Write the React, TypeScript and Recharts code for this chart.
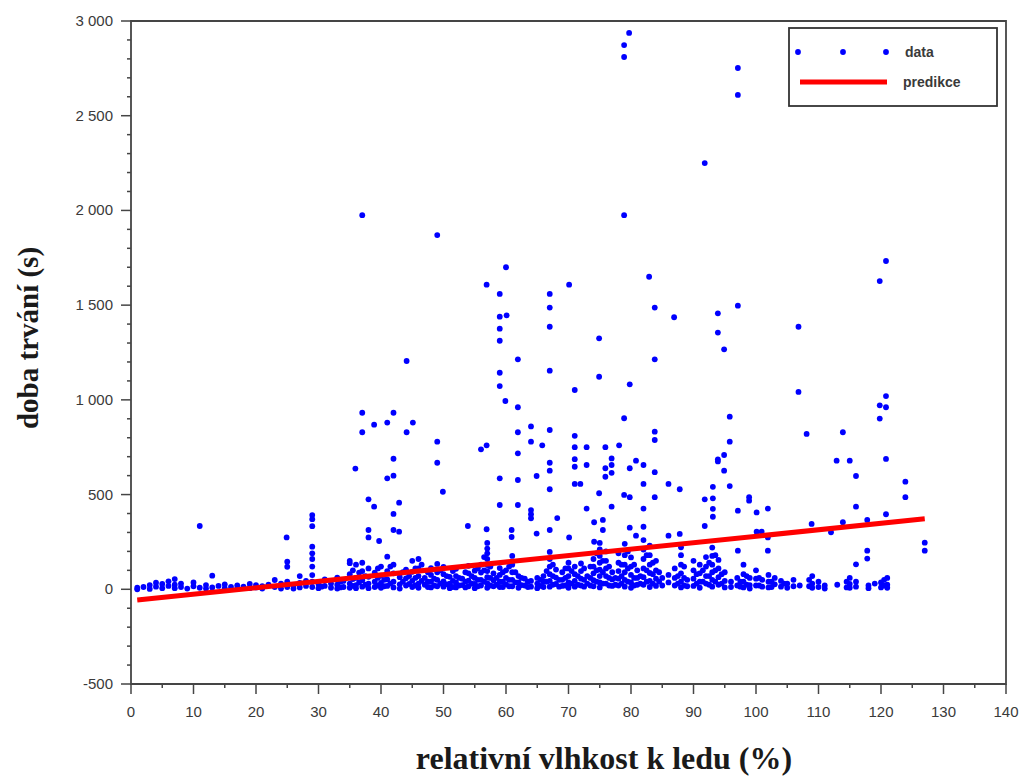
import { ScatterChart, Scatter, XAxis, YAxis, ReferenceArea } from 'recharts';

// x axis: major every 10, minor every 5
const xTicks = [0, 5, 10, 15, 20, 25, 30, 35, 40, 45, 50, 55, 60, 65, 70, 75, 80, 85, 90, 95, 100, 105, 110, 115, 120, 125, 130, 135, 140];
// y axis: labelled every 500, minor every 100
const yMajor = [-500, 0, 500, 1000, 1500, 2000, 2500, 3000];
const yTicks = yMajor.flatMap((v) => (v < 3000 ? [v, v + 100, v + 200, v + 300, v + 400] : [v]));

// scattered measurements well above the band
const highPoints: [number, number][] = [
  [11, 334], [24.9, 274], [29, 392], [29, 370], [29, 333], [35.9, 637], [37, 1975], [37, 932], [37, 829],
  [38.9, 869], [38, 475], [38.9, 436], [38, 313], [38, 274], [39.7, 255], [41, 880], [42, 932], [42, 689],
  [41, 586], [42, 600], [42, 398], [42, 313], [42.9, 304], [42.9, 457], [44.1, 1205], [44.1, 829], [45.1, 880],
  [49, 1870], [49, 779], [49, 668], [49.9, 515], [53.9, 334], [56, 739], [56.9, 760], [56.9, 1608], [56.9, 317],
  [59, 1559], [59, 1439], [60.1, 1446], [59, 1376], [59, 1312], [59, 1143], [59, 1073], [59.9, 994], [59, 586],
  [59, 445], [60, 1700], [60.9, 313], [60.9, 276], [61.9, 1214], [61.9, 961], [61.9, 829], [61.9, 718],
  [61.9, 577], [61.9, 445], [64, 860], [64, 779], [65.8, 760], [64.9, 598], [64, 418], [64, 396], [64, 375],
  [64.9, 294], [67, 1559], [67, 1487], [67, 1386], [67, 1154], [67, 841], [67, 668], [67, 626], [67, 528],
  [67, 313], [68.2, 376], [70.1, 1608], [70.1, 274], [71, 1052], [71, 810], [71, 750], [71, 687], [71, 647],
  [71, 556], [71.9, 556], [72.9, 750], [72.9, 656], [72.9, 426], [74.9, 1325], [74.9, 1122], [74.9, 507],
  [74.1, 354], [74.1, 251], [75.9, 750], [75.9, 639], [75.9, 594], [76.9, 691], [76.9, 656], [76.9, 615],
  [76.9, 436], [75.5, 366], [75.5, 313], [78.1, 760], [78.9, 2873], [78.9, 2810], [78.9, 1975], [78.9, 903],
  [78.9, 498], [79.7, 2937], [79.8, 1082], [79.8, 639], [79.8, 486], [80.8, 679], [79.8, 325], [80.8, 283],
  [82, 656], [82, 556], [82, 426], [82, 330], [82.9, 1650], [83.8, 1487], [83.8, 1214], [83.8, 832],
  [83.8, 788], [83.8, 618], [83.8, 486], [86, 556], [86, 283], [86.9, 1436], [87.8, 528], [87.8, 292],
  [91.8, 2250], [91.8, 475], [91.8, 334], [93.1, 541], [93.1, 480], [93.1, 425], [93.1, 383], [93.9, 1457],
  [93.9, 1355], [93.9, 686], [93.9, 675], [94.9, 1267], [94.9, 709], [94.9, 626], [95.8, 911], [95.8, 779],
  [95.8, 545], [97.1, 2752], [97.1, 2610], [97.1, 1497], [97.1, 415], [97.1, 204], [98.9, 486], [98.9, 468],
  [100.1, 406], [100.1, 304], [100.9, 304], [101.9, 426], [101.9, 274], [101.9, 204], [106.8, 1386],
  [106.8, 1042], [108.1, 820], [108.9, 345], [112, 301], [112.9, 679], [113.9, 829], [113.9, 354], [115, 679],
  [116, 598], [116, 436], [117.8, 366], [117.8, 204], [117.8, 162], [116, 132], [119.8, 1627], [119.8, 971],
  [119.8, 901], [120.8, 1733], [120.8, 1020], [120.8, 961], [120.8, 688], [120.8, 396], [123.9, 568],
  [123.9, 486], [127, 246], [127, 204],
];

// dense band near zero: columns of values per humidity reading
const lowColumns: [number, number[]][] = [
  [1, [0, 8]], [2, [12]], [3, [2, 22]], [4, [14, 35]], [5, [6, 28]], [6, [18, 42]], [7, [54, 24, 6]],
  [8, [12, 30]], [9, [4]], [10, [16, 36]], [11, [8]], [12, [22, 4]], [13, [72, 10]], [14, [18]], [15, [6, 26]],
  [16, [12]], [17, [2, 20]], [18, [14]], [19, [28, 6]], [20, [10, 22]], [21, [4, 16]], [22, [24]],
  [23, [49, 12]], [24, [30, 4]], [25, [146, 119, 40, 12]], [26, [20, 4]], [27, [70, 34, 10]], [28, [18, 44]],
  [29, [225, 190, 160, 120, 75, 40, 12]], [30, [28, 6]], [31, [52, 18]], [32, [30, 8]], [33, [62, 24, 4]],
  [34, [44, 12]], [35, [150, 138, 80, 30, 8]], [36, [130, 60, 22, 6]], [37, [140, 96, 48, 14]],
  [38, [110, 66, 30, 6]], [39, [88, 40, 12]], [40, [120, 72, 34, 8]], [41, [172, 96, 52, 18]],
  [42, [130, 84, 40, 10]], [43, [64, 26, 4]], [44, [104, 58, 20]], [45, [150, 92, 44, 12]],
  [46, [160, 110, 70, 30, 8]], [47, [60, 24]], [48, [112, 76, 40, 10]], [49, [134, 90, 50, 16]],
  [50, [118, 80, 42, 14]], [51, [66, 30, 6]], [52, [108, 70, 36, 10]], [53, [56, 22]], [54, [124, 84, 46, 16]],
  [55, [98, 60, 28, 6]], [56, [130, 88, 50, 20]], [57, [245, 215, 190, 160, 128, 96, 64, 32, 8]],
  [58, [84, 48, 16]], [59, [112, 76, 40, 12]], [60, [100, 60, 26]], [61, [176, 130, 90, 50, 16]],
  [62, [70, 36, 8]], [63, [56, 20]], [64, [44, 14]], [65, [60, 30, 6]], [66, [70, 40, 12]],
  [67, [197, 160, 120, 80, 44, 14]], [68, [104, 62, 28]], [69, [90, 50, 18]], [70, [140, 110, 70, 36, 8]],
  [71, [120, 80, 44, 14]], [72, [136, 96, 56, 20]], [73, [70, 30]], [74, [160, 120, 84, 48, 16]],
  [75, [245, 210, 176, 140, 104, 70, 36, 10]], [76, [200, 150, 110, 70, 30]], [77, [90, 52, 18]],
  [78, [190, 140, 96, 56, 20]], [79, [240, 180, 130, 90, 50, 14]], [80, [168, 120, 76, 36, 8]],
  [81, [100, 60, 24]], [82, [260, 210, 160, 110, 64, 24]], [83, [230, 180, 130, 86, 44, 12]],
  [84, [150, 100, 56, 18]], [85, [60, 20]], [86, [76, 36]], [87, [110, 60, 20]],
  [88, [222, 180, 130, 84, 40, 10]], [89, [50, 16]], [90, [150, 100, 56, 18]], [91, [130, 84, 40, 8]],
  [92, [170, 120, 70, 30]], [93, [220, 176, 130, 90, 50, 14]], [94, [155, 110, 64, 24]], [95, [90, 44, 10]],
  [96, [40, 12]], [97, [60, 20]], [98, [130, 80, 40, 10]], [99, [60, 22, 4]], [100, [100, 56, 20]],
  [101, [50, 14]], [102, [76, 40, 10]], [103, [60, 26]], [104, [44, 14]], [105, [30, 8]], [106, [50, 16]],
  [107, [20]], [109, [70, 30, 8]], [110, [40, 12]], [111, [20, 4]], [113, [24]], [115, [60, 28, 8]],
  [116, [40, 14]], [118, [20, 6]], [119, [30]], [120, [36, 10]], [121, [60, 24, 8]],
];

// readings between the whole-number columns, also in the band
const lowColumnsHalf: [number, number[]][] = [
  [30.5, [14]], [33.5, [40, 10]], [35.5, [100, 54, 18]], [36.5, [88, 36]], [37.5, [70, 24]],
  [39.5, [110, 60, 20]], [40.5, [50, 16]], [41.5, [120, 30]], [43.5, [90, 40]], [44.5, [70, 28]],
  [45.5, [110, 60, 20]], [46.5, [130, 44]], [47.5, [90, 40, 12]], [48.5, [56, 20]], [49.5, [100, 30]],
  [50.5, [70, 26]], [51.5, [96, 44, 12]], [52.5, [60, 20]], [53.5, [90, 40, 10]], [54.5, [70, 30]],
  [55.5, [110, 50, 16]], [56.5, [170, 100, 40]], [57.5, [120, 60, 20]], [58.5, [60, 24]],
  [59.5, [90, 40, 12]], [60.5, [120, 50, 16]], [61.5, [90, 36]], [62.5, [60, 22]], [63.5, [40, 12]],
  [65.5, [50, 18]], [66.5, [96, 40]], [67.5, [130, 70, 24]], [68.5, [50, 14]], [69.5, [110, 60, 20]],
  [70.5, [96, 30]], [71.5, [70, 24]], [72.5, [110, 50, 14]], [73.5, [120, 60, 20]], [74.5, [190, 100, 40]],
  [75.5, [150, 90, 30]], [76.5, [120, 60, 20]], [77.5, [60, 24]], [78.5, [130, 70, 30]], [79.5, [200, 110, 40]],
  [80.5, [130, 60, 20]], [81.5, [70, 30]], [82.5, [180, 100, 40]], [83.5, [140, 80, 30]], [84.5, [90, 40]],
  [87.5, [70, 30]], [88.5, [120, 60, 20]], [90.5, [80, 30]], [91.5, [100, 40]], [92.5, [140, 70, 24]],
  [93.5, [180, 100, 40]], [94.5, [80, 30]], [97.5, [40, 14]], [98.5, [70, 24]], [100.5, [60, 20]],
  [102.5, [40, 12]], [104.5, [30]], [108.5, [50, 16]], [114.5, [40, 10]], [120.5, [50, 20]],
];

// fitted line end points
const prediction: [number, number][] = [[1, -57], [127, 372]];

const points = [
  ...highPoints.map(([x, y]) => ({ x, y })),
  ...[...lowColumns, ...lowColumnsHalf].flatMap(([x, ys]) => ys.map((y) => ({ x, y }))),
];
const predData = prediction.map(([x, y]) => ({ x, y }));

const tickFont = { fontFamily: '"Liberation Sans", Arial, sans-serif', fontSize: 15, fill: '#3a3a3a' };
const frame = '#454545';

const fmtY = (v: number) =>
  Math.abs(v) >= 1000 ? `${Math.floor(v / 1000)} ${String(v % 1000).padStart(3, '0')}` : String(v);

const XTick = (props: any) => {
  const { x, y, payload } = props;
  const major = payload.value % 10 === 0;
  return (
    <g>
      <line x1={x} x2={x} y1={y} y2={y + (major ? 10 : 4)} stroke={frame} strokeWidth={1.5} />
      {major && (
        <text x={x} y={y + 33} textAnchor="middle" {...tickFont}>
          {payload.value}
        </text>
      )}
    </g>
  );
};

const YTick = (props: any) => {
  const { x, y, payload } = props;
  const major = payload.value % 500 === 0;
  return (
    <g>
      <line x1={x - (major ? 10 : 4)} x2={x} y1={y} y2={y} stroke={frame} strokeWidth={1.5} />
      {major && (
        <text x={x - 18} y={y + 5} textAnchor="end" {...tickFont}>
          {fmtY(payload.value)}
        </text>
      )}
    </g>
  );
};

export default function App() {
  return (
    <div style={{ position: 'absolute', left: 0, top: 0, width: 1024, height: 776, background: '#fff' }}>
      <ScatterChart width={1024} height={776} margin={{ top: 21, right: 18, left: 0, bottom: 0 }}>
        <XAxis
          type="number"
          dataKey="x"
          domain={[0, 140]}
          ticks={xTicks}
          interval={0}
          tickSize={0}
          tickMargin={0}
          axisLine={false}
          tickLine={false}
          tick={XTick}
          height={92}
          allowDataOverflow
        />
        <YAxis
          type="number"
          dataKey="y"
          domain={[-500, 3000]}
          ticks={yTicks}
          interval={0}
          tickSize={0}
          tickMargin={0}
          axisLine={false}
          tickLine={false}
          tick={YTick}
          width={131}
          allowDataOverflow
        />
        <Scatter
          data={points}
          isAnimationActive={false}
          shape={(p: any) => <circle cx={p.cx} cy={p.cy} r={2.9} fill="#0000ff" />}
        />
        <Scatter
          data={predData}
          isAnimationActive={false}
          line={{ stroke: '#ff0000', strokeWidth: 5 }}
          shape={() => <g />}
        />
        <ReferenceArea x1={0} x2={140} y1={-500} y2={3000} fill="none" fillOpacity={0} stroke={frame} strokeWidth={1.8} />
      </ScatterChart>

      <svg width={1024} height={776} style={{ position: 'absolute', left: 0, top: 0, pointerEvents: 'none' }}>
        <text
          x={604}
          y={769}
          textAnchor="middle"
          fontFamily='"Liberation Serif", "Times New Roman", serif'
          fontWeight="bold"
          fontSize={32}
          fill="#1a1a1a"
        >
          relativní vlhkost k ledu (%)
        </text>
        <text
          transform="translate(38 338) rotate(-90)"
          textAnchor="middle"
          fontFamily='"Liberation Serif", "Times New Roman", serif'
          fontWeight="bold"
          fontSize={29}
          fill="#1a1a1a"
        >
          doba trvání (s)
        </text>

        <rect x={789} y={28} width={208} height={78} fill="#fff" stroke="#333" strokeWidth={1.8} />
        <circle cx={798} cy={52} r={2.9} fill="#0000ff" />
        <circle cx={843} cy={52} r={2.9} fill="#0000ff" />
        <circle cx={886} cy={52} r={2.9} fill="#0000ff" />
        <text x={905} y={57} fontFamily='"Liberation Sans", Arial, sans-serif' fontWeight="bold" fontSize={14} fill="#3a3a3a">
          data
        </text>
        <line x1={800} x2={887} y1={82} y2={82} stroke="#ff0000" strokeWidth={5} />
        <text x={903} y={87} fontFamily='"Liberation Sans", Arial, sans-serif' fontWeight="bold" fontSize={14} fill="#3a3a3a">
          predikce
        </text>
      </svg>
    </div>
  );
}
